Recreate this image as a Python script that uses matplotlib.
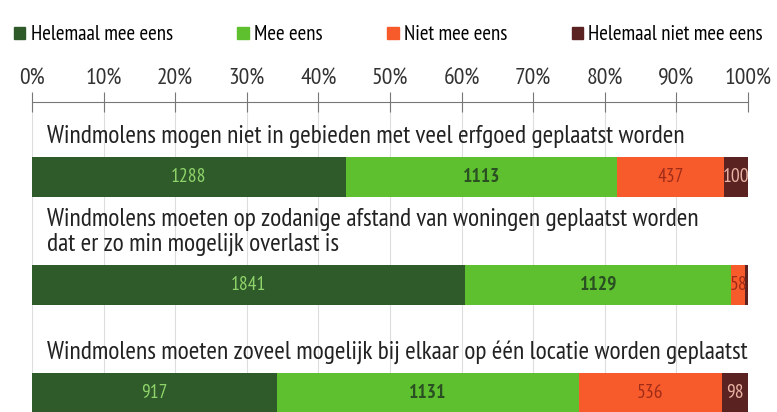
import matplotlib.pyplot as plt
from matplotlib.patches import Patch
import numpy as np

# data
statements = ['Windmolens mogen niet in gebieden met veel erfgoed geplaatst worden',
              'Windmolens moeten op zodanige afstand van woningen geplaatst worden\ndat er zo min mogelijk overlast is',
              'Windmolens moeten zoveel mogelijk bij elkaar op één locatie worden geplaatst']
categories = ['Helemaal mee eens', 'Mee eens', 'Niet mee eens', 'Helemaal niet mee eens']
helemaal_eens = [1288, 1841, 917]
eens = [1113, 1129, 1131]
niet_eens = [437, 58, 536]
helemaal_niet = [100, 13, 98]
tick_labels = ['0%', '10%', '20%', '30%', '40%', '50%', '60%', '70%', '80%', '90%', '100%']

colors = ['#2f5a2a', '#5ec02e', '#f85b2b', '#5b2222']
label_colors = ['#8fd46a', '#2a4f22', '#a02c18', '#e8b4a4']
label_weights = ['normal', 'bold', 'normal', 'normal']

plt.rcParams['font.family'] = ['PT Sans Narrow', 'DejaVu Sans']

fig = plt.figure(figsize=(7.77, 4.12), dpi=100)
ax = fig.add_axes([32/777, 0, 716/777, 310/412])

series = np.array([helemaal_eens, eens, niet_eens, helemaal_niet], dtype=float)
totals = series.sum(axis=0)
pct = series / totals * 100
y = np.arange(len(statements))
h = 0.37

left = np.zeros(len(statements))
for i in range(4):
    ax.barh(y, pct[i], left=left, height=h, color=colors[i], zorder=2)
    for j in range(len(statements)):
        if pct[i][j] < 1:
            continue  # too narrow, label hidden like in the original
        cx = left[j] + pct[i][j] / 2
        ax.text(cx, y[j], str(int(series[i][j])), ha='center', va='center',
                fontsize=14, color=label_colors[i], fontweight=label_weights[i],
                zorder=3, clip_on=True)
    left += pct[i]

for j, s in enumerate(statements):
    ax.text(2.1, y[j] - h/2 - 0.08, s, ha='left', va='bottom', fontsize=18.3,
            color='#222222', zorder=3, linespacing=1.12)

ax.set_xlim(0, 100)
ax.set_ylim(2.176, -0.694)
ax.set_xticks(np.arange(0, 101, 10))
ax.set_xticklabels(tick_labels, fontsize=17, color='#333333')
ax.xaxis.tick_top()
ax.tick_params(axis='x', direction='inout', length=14, width=0.8, color='#777777', pad=2)
ax.set_yticks([])
ax.grid(axis='x', color='#dddddd', linewidth=0.8, zorder=0)
for sp in ['left', 'right', 'bottom']:
    ax.spines[sp].set_visible(False)
ax.spines['top'].set_color('#777777')
ax.spines['top'].set_linewidth(0.8)

handles = [Patch(color=c) for c in colors]
fig.legend(handles, categories, loc='center', bbox_to_anchor=(0.5, 1 - 35/412), ncol=4,
           frameon=False, fontsize=15, handlelength=0.55, handleheight=0.55,
           handletextpad=0.25, columnspacing=3.1)

fig.savefig('out.png', dpi=100)
